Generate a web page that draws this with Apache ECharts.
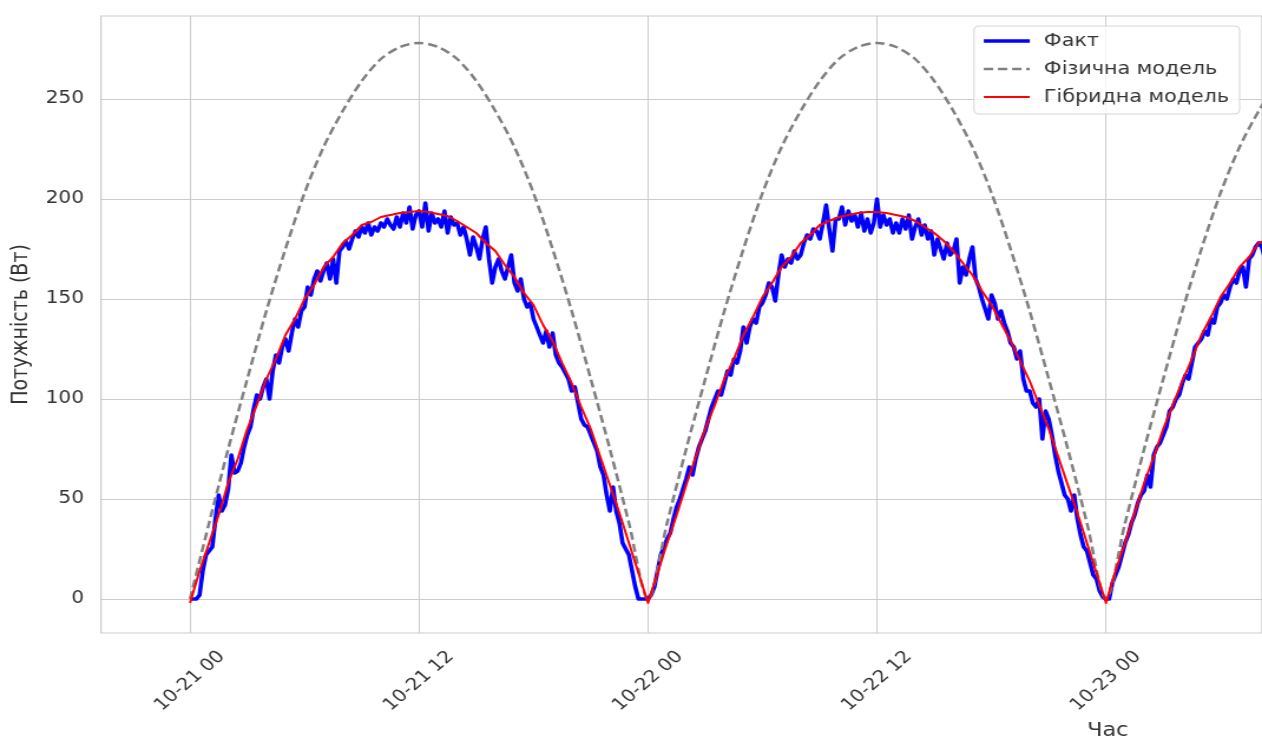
<!DOCTYPE html>
<html>
<head>
<meta charset="utf-8">
<title>Потужність: факт, фізична та гібридна модель</title>
<script src="https://cdn.jsdelivr.net/npm/echarts@6/dist/echarts.min.js"></script>
<style>
  html, body { margin: 0; padding: 0; background: #ffffff; }
  #wrap { width: 1262px; height: 740px; overflow: hidden; }
  /* the figure is drawn at 1070px and widened to 1262px, as in the published figure */
  #chart { width: 1070px; height: 740px; transform: scaleX(1.179439); transform-origin: 0 0; }
</style>
</head>
<body>
<div id="wrap"><div id="chart"></div></div>
<script>
// Measured power, 10-minute samples from 2024-10-21 00:00, one row per hour (W)
const factDay1 = [
  0, 0, 0, 2, 14, 22,
  24, 26, 40, 52, 44, 47,
  55, 72, 63, 64, 68, 76,
  82, 86, 95, 102, 100, 106,
  110, 100, 114, 122, 118, 126,
  130, 124, 133, 140, 136, 144,
  146, 156, 152, 160, 164, 159,
  164, 168, 160, 170, 158, 174,
  176, 179, 175, 180, 184, 181,
  186, 183, 188, 182, 186, 184,
  188, 186, 190, 187, 185, 191,
  186, 193, 188, 196, 185, 192,
  194, 186, 198, 184, 193, 188,
  190, 186, 194, 183, 191, 187,
  188, 182, 186, 180, 172, 181,
  176, 170, 180, 186, 170, 158,
  166, 170, 164, 160, 166, 172,
  158, 154, 160, 150, 146, 148,
  140, 136, 132, 128, 134, 126,
  133, 122, 118, 116, 113, 110,
  104, 106, 98, 90, 87, 86,
  82, 78, 74, 66, 62, 52,
  44, 56, 44, 38, 28, 25,
  22, 14, 6, 0, 0, 0
];
const factDay2 = [
  0, 2, 6, 14, 22, 26,
  30, 33, 40, 46, 50, 55,
  60, 66, 62, 70, 76, 80,
  84, 90, 96, 100, 104, 102,
  108, 114, 112, 120, 118, 124,
  136, 128, 136, 140, 138, 146,
  148, 152, 158, 156, 149, 162,
  172, 166, 170, 168, 174, 170,
  172, 178, 182, 180, 185, 184,
  180, 188, 197, 185, 174, 190,
  190, 196, 187, 194, 189, 192,
  186, 193, 184, 190, 183, 188,
  200, 186, 192, 187, 190, 183,
  188, 183, 190, 185, 192, 180,
  186, 190, 182, 187, 180, 184,
  172, 180, 175, 170, 178, 172,
  174, 180, 158, 166, 162, 170,
  176, 160, 156, 150, 145, 140,
  152, 148, 140, 144, 138, 134,
  128, 126, 120, 124, 110, 104,
  104, 98, 96, 100, 80, 94,
  90, 82, 72, 64, 58, 52,
  50, 44, 52, 40, 32, 26,
  24, 18, 12, 10, 4, 1
];
const factDay3 = [
  0, 0, 8, 12, 16, 22,
  28, 32, 38, 42, 48, 52,
  54, 62, 56, 72, 76, 78,
  82, 86, 94, 96, 100, 102,
  108, 112, 110, 118, 126, 128,
  130, 134, 132, 140, 138, 146,
  148, 152, 150, 156, 160, 158,
  164, 166, 156, 170, 172, 176,
  178, 176, 170
];

// Physical model, hourly (W)
const physicalDay1 = [0, 38, 75, 110, 144, 175, 203, 226, 244, 259, 270, 276, 278, 276, 270, 259, 244, 226, 203, 175, 144, 110, 75, 38];
const physicalDay2 = [0, 38, 75, 110, 144, 175, 203, 226, 244, 259, 270, 276, 278, 276, 270, 259, 244, 226, 203, 175, 144, 110, 75, 38];
const physicalDay3 = [0, 38, 75, 110, 144, 175, 203, 226, 244, 259];

// Hybrid model, 30-minute steps (W)
const hybridDay1 = [
  -2, 14, 28, 42, 58, 70, 85, 97, 110, 120, 132, 140, 150, 157, 166, 171,
  178, 182, 187, 188.5, 191, 192, 193, 193.5, 194, 193.5, 192.5, 191.5, 189, 186, 183, 178,
  174, 167, 161, 153, 147, 137, 129, 118, 108, 96, 85, 71, 57, 43, 28, 13
];
const hybridDay2 = [
  -2, 13, 28, 42, 57, 71, 85, 97, 110, 120, 132, 141, 151, 158, 166, 171,
  178, 182, 187, 189, 191, 192, 193, 193.5, 193.5, 193, 192, 191, 189, 186, 183, 179,
  174, 168, 162, 154, 147, 138, 129, 119, 109, 97, 85, 71, 57, 43, 28, 13
];
const hybridDay3 = [-2, 14, 28, 43, 58, 71, 85, 97, 109, 120, 132, 141, 151, 158, 166, 171, 178, 180];

const seriesNames = ['Факт', 'Фізична модель', 'Гібридна модель'];
const xTickLabels = ['10-21 00', '10-21 12', '10-22 00', '10-22 12', '10-23 00'];
const yTickValues = [0, 50, 100, 150, 200, 250];
const YEAR = 2024;

const MINUTE = 60 * 1000;
const start = new Date(YEAR, 9, 21, 0, 0, 0).getTime();
const axisMin = new Date(YEAR, 9, 20, 19, 20, 0).getTime();
const axisMax = new Date(YEAR, 9, 23, 8, 10, 30).getTime();

function timed(values, stepMinutes) {
  return values.map((v, i) => [start + i * stepMinutes * MINUTE, v]);
}
const fact = timed(factDay1.concat(factDay2, factDay3), 10);
const physical = timed(physicalDay1.concat(physicalDay2, physicalDay3), 60);
const hybrid = timed(hybridDay1.concat(hybridDay2, hybridDay3), 30);

function pad(n) { return (n < 10 ? '0' : '') + n; }
function parseTick(label) {
  const m = /^(\d\d)-(\d\d) (\d\d)$/.exec(label);
  return new Date(YEAR, +m[1] - 1, +m[2], +m[3]).getTime();
}
function tickLabel(v) {
  const d = new Date(v);
  return pad(d.getMonth() + 1) + '-' + pad(d.getDate()) + ' ' + pad(d.getHours());
}
const xTickValues = xTickLabels.map(parseTick);

const textColor = '#333333';
const gridColor = '#cccccc';
const font = 'DejaVu Sans';

const chart = echarts.init(document.getElementById('chart'), null, { renderer: 'canvas' });
chart.setOption({
  animation: false,
  backgroundColor: '#ffffff',
  textStyle: { fontFamily: font },
  grid: {
    left: 85.6, right: -2, top: 16, bottom: 107,
    show: true, borderColor: gridColor, borderWidth: 1.2, backgroundColor: 'transparent'
  },
  legend: {
    orient: 'vertical',
    left: 825.8, top: 26,
    padding: [5, 9, 7, 6.5],
    itemWidth: 39, itemHeight: 14, itemGap: 8,
    itemStyle: { opacity: 0 },
    lineStyle: { width: 'inherit' },
    backgroundColor: 'rgba(255,255,255,0.8)',
    borderColor: '#d6d6d6', borderWidth: 1, borderRadius: 4,
    textStyle: { fontFamily: font, fontSize: 17.5, lineHeight: 20, color: textColor, padding: [0, 0, 0, 7] },
    data: seriesNames
  },
  xAxis: {
    type: 'value',
    min: axisMin, max: axisMax,
    axisLine: { show: false },
    axisTick: { show: false, customValues: xTickValues },
    splitLine: { show: true, lineStyle: { color: gridColor, width: 1 } },
    axisLabel: {
      customValues: xTickValues,
      rotate: 45, margin: 48,
      align: 'center', verticalAlign: 'middle',
      fontFamily: font, fontSize: 17, color: textColor,
      formatter: tickLabel
    }
  },
  yAxis: {
    type: 'value',
    min: -17, max: 291.5,
    name: 'Потужність (Вт)',
    nameLocation: 'middle',
    nameGap: 58.5,
    nameTextStyle: { fontFamily: font, fontSize: 19, color: textColor },
    axisLine: { show: false },
    axisTick: { show: false, customValues: yTickValues },
    splitLine: { show: true, lineStyle: { color: gridColor, width: 1 } },
    axisLabel: {
      customValues: yTickValues,
      margin: 14.4,
      fontFamily: font, fontSize: 17, color: textColor
    }
  },
  graphic: [{
    type: 'text',
    style: {
      text: 'Час', x: 939.2, y: 722,
      align: 'center', verticalAlign: 'top',
      font: '19px "DejaVu Sans"', fill: textColor
    }
  }],
  series: [
    {
      name: seriesNames[0], type: 'line', data: fact,
      showSymbol: false, symbol: 'none',
      lineStyle: { color: '#0000ff', width: 3.6, join: 'round' },
      itemStyle: { color: '#0000ff' },
      z: 2
    },
    {
      name: seriesNames[1], type: 'line', data: physical,
      showSymbol: false, symbol: 'none', smooth: 0.3,
      lineStyle: { color: '#808080', width: 2.5, type: [8, 4] },
      itemStyle: { color: '#808080' },
      z: 3
    },
    {
      name: seriesNames[2], type: 'line', data: hybrid,
      showSymbol: false, symbol: 'none',
      lineStyle: { color: '#ff0000', width: 2, join: 'round' },
      itemStyle: { color: '#ff0000' },
      z: 4
    }
  ]
});
</script>
</body>
</html>
